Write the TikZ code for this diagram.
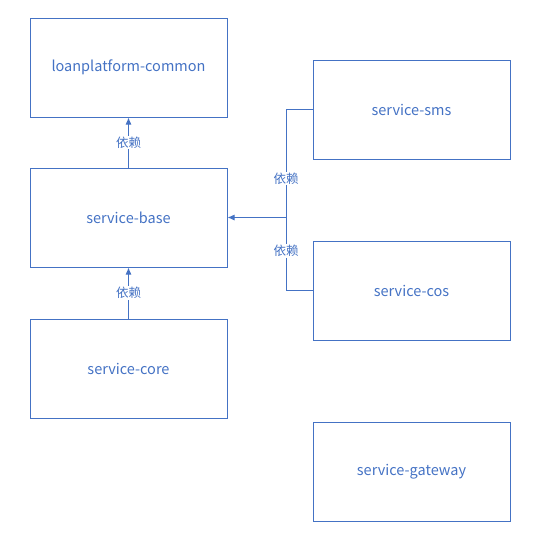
\documentclass[tikz,border=0pt]{standalone}
\usepackage{fontspec}
\setmainfont{Noto Sans CJK SC}
\usepackage{tikz}
\usetikzlibrary{positioning,calc,arrows.meta}
\definecolor{depblue}{HTML}{4472C4}
\tikzset{dep edge/.style={draw=depblue,line width=1pt,-{Latex[length=7pt,width=6pt]}},
 dep label/.style={fill=white,text=depblue,inner sep=1pt,font=\fontsize{12.5}{14}\selectfont}}
\begin{document}
\begin{tikzpicture}[x=1pt,y=-1pt,mod/.style={draw=depblue,line width=1pt,text=depblue,minimum width=197pt,minimum height=99pt,font=\fontsize{14.5}{16}\selectfont}]
\useasboundingbox (0,0) rectangle (536,544);
\node[mod] (CM) at (128.5,67.5) {loanplatform-common};
\node[below=50pt of CM,mod] (SB) {service-base};
\node[below=51pt of SB,mod] (SC) {service-core};
\node[mod] (SMS) at (411.5,109.5) {service-sms};
\node[below=81pt of SMS,mod] (COS) {service-cos};
\node[below=81pt of COS,mod] (GW) {service-gateway};
\coordinate (J) at ($(SB.east)+(58.5pt,0)$);

\draw (SB) edge[dep edge] node[dep label] {依赖} (CM)
(SC) edge[dep edge] node[dep label] {依赖} (SB);
\draw[dep edge,-] (SMS.west) -| node[pos=0.82,dep label] {依赖} (J)
(COS.west) -| node[pos=0.77,dep label] {依赖} (J);
\draw[dep edge] (J) -- (SB.east);
\end{tikzpicture}
\end{document}
